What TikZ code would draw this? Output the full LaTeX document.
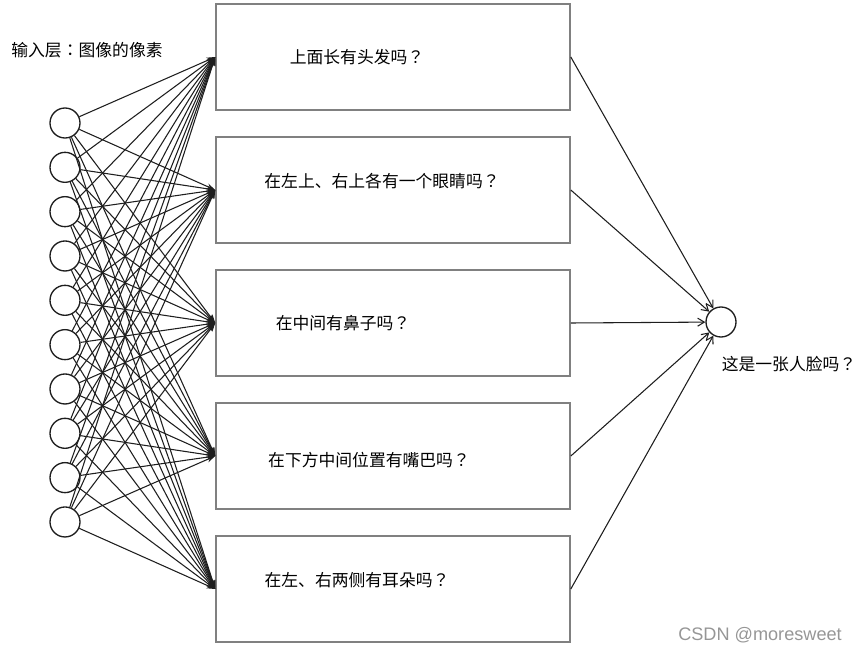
\documentclass[tikz,border=0pt]{standalone}
\usepackage{fontspec}
\setmainfont{Noto Sans CJK SC}
\newfontfamily\jpfont{Noto Sans CJK JP}
\newfontfamily\wmfont{Liberation Sans}
\usetikzlibrary{arrows.meta, positioning}
\definecolor{boxgray}{RGB}{128, 128, 128}
\definecolor{linegray}{RGB}{30, 30, 30}
\definecolor{wmgray}{RGB}{150, 150, 150}
% 居中的全角标点
\newcommand{\qmk}{{\jpfont ？}}
\newcommand{\cln}{{\jpfont ：}}

\begin{document}
\begin{tikzpicture}[x=0.75pt, y=-0.75pt,
  neuron/.style={circle, draw=linegray, line width=1pt, minimum size=22.5pt, inner sep=0pt, fill=white},
  qbox/.style={draw=boxgray, line width=1.2pt, minimum width=265.5pt, minimum height=79.5pt, inner sep=0pt},
  qtext/.style={font=\fontsize{12.6}{15}\selectfont, inner sep=0pt},
  link/.style={linegray, line width=0.8pt, -{Stealth[length=6.5pt, width=4.5pt]}},
  vote/.style={linegray, line width=0.8pt, -{Straight Barb[length=5pt, width=6pt]}}]
  % 画布与参考图同尺寸 (860 x 652 px)
  \useasboundingbox (0, 0) rectangle (860, 652);

  % 输入层：10 个像素神经元
  \foreach \i in {1,...,10} {
    \node[neuron] (in\i) at (65, {123+44.33*(\i-1)}) {};
  }
  \node[qtext] (inlbl) at (87, 50) {输入层\cln 图像的像素};

  % 隐藏层：5 个问题框
  \foreach \j/\y in {1/57, 2/190, 3/323, 4/456, 5/589} {
    \node[qbox] (q\j) at (393, \y) {};
  }
  \node[qtext] (t1) at (357, 57)  {上面长有头发吗\qmk};
  \node[qtext] (t2) at (382, 181) {在左上、右上各有一个眼睛吗\qmk};
  \node[qtext] (t3) at (343, 323) {在中间有鼻子吗\qmk};
  \node[qtext] (t4) at (369, 460) {在下方中间位置有嘴巴吗\qmk};
  \node[qtext] (t5) at (357, 580) {在左、右两侧有耳朵吗\qmk};

  % 全连接：每个像素 -> 每个问题
  \foreach \i in {1,...,10} {
    \foreach \j in {1,...,5} {
      \draw[link] (in\i) -- (q\j.west);
    }
  }

  % 输出层
  \node[neuron] (out) at (721, 322) {};
  \node[qtext] (outlbl) at (789, 364) {这是一张人脸吗\qmk};
  \foreach \j in {1,...,5} {
    \draw[vote] (q\j.east) -- (out);
  }

  % 水印
  \node[wmgray, font=\wmfont\fontsize{13.6}{15}\selectfont] (wm) at (760, 635) {CSDN @moresweet};
\end{tikzpicture}
\end{document}
